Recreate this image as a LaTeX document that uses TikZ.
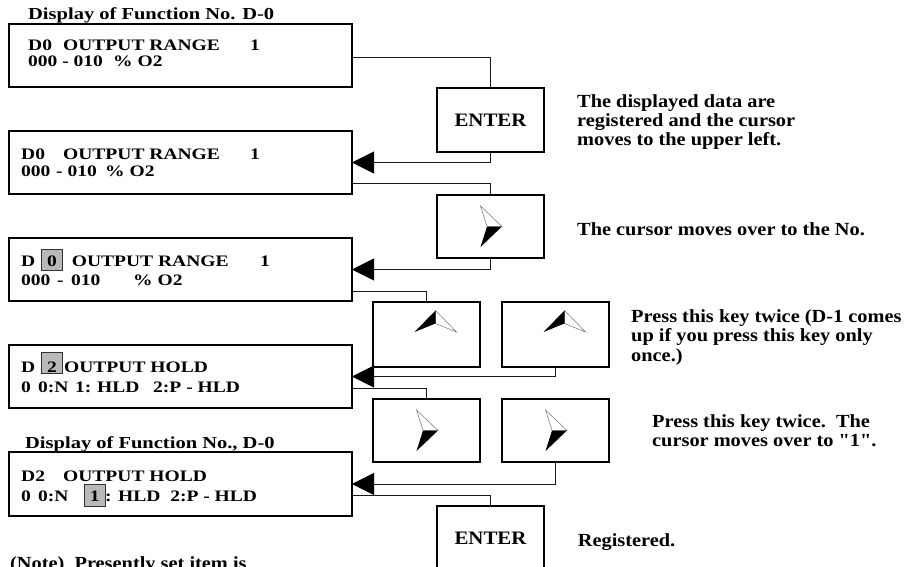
\documentclass[tikz,border=0pt]{standalone}
\usepackage{fontspec}
\setmainfont{Liberation Serif}
\newfontfamily\dispfont[FakeStretch=1.22]{Liberation Serif Bold}
\newfontfamily\rfont[FakeStretch=1.1]{Liberation Serif Bold}
\usetikzlibrary{arrows.meta,calc}
\newcommand\seg[2]{\makebox[#1pt][l]{#2}}
\tikzset{
 rightkey/.pic={
   \filldraw[fill=white,draw=black!55,line width=0.5pt] (-10,-20.5) -- (11.5,0) -- (-3.5,0) -- cycle;
   \fill[black] (-3.5,0) -- (11.5,0) -- (-10,20.5) -- cycle;
 },
 upkey/.pic={
   \filldraw[fill=white,draw=black!55,line width=0.5pt] (9,-24) -- (30,-2.5) -- (9,-11) -- cycle;
   \fill[black] (-12,-2.5) -- (9,-24) -- (9,-11) -- cycle;
 }
}
\begin{document}
\begin{tikzpicture}[x=1pt,y=-1pt,
 disp/.style={draw=black,line width=1.6pt,minimum width=343pt,minimum height=63pt,inner sep=0pt,outer sep=0pt},
 keybox/.style={draw=black,line width=1.6pt,minimum width=107pt,minimum height=64pt,inner sep=0pt,outer sep=0pt,font=\rfont\fontsize{19}{19.5}\selectfont},
 dtext/.style={anchor=base west,inner sep=0pt,font=\dispfont\fontsize{16}{16}\selectfont},
 ttext/.style={anchor=base west,inner sep=0pt,font=\dispfont\fontsize{16.8}{17}\selectfont},
 rtext/.style={anchor=base west,inner sep=0pt,font=\rfont\fontsize{18.5}{19.5}\selectfont},
 conn/.style={draw=black!90,line width=0.9pt},
 arr/.style={conn,-{Triangle[length=22pt,width=22pt,color=black]}},
 hl/.style={draw=black!80,line width=1pt,fill=black!28}
]
\useasboundingbox (0,0) rectangle (904,567);
\clip (0,0) rectangle (904,567);
\fill[white] (0,0) rectangle (904,567);

% display boxes
\node[disp] (d1) at (180.5,55.5) {};
\node[disp] (d2) at (180.5,162.5) {};
\node[disp] (d3) at (180.5,269.5) {};
\node[disp] (d4) at (180.5,376.5) {};
\node[disp,minimum height=64pt] (d5) at (180.5,484) {};

% key boxes
\node[keybox] (k1) at (490.5,120) {ENTER};
\node[keybox,minimum height=63pt] (k2) at (490.5,226.5) {};
\node[keybox,minimum height=65pt] (k3) at (426.5,334.5) {};
\node[keybox,minimum height=65pt] (k4) at (555.5,334.5) {};
\node[keybox,minimum height=63pt] (k5) at (426.5,430.5) {};
\node[keybox,minimum height=63pt] (k6) at (555.5,430.5) {};
\node[keybox] (k7) at (490.5,538) {ENTER};

\pic at (k2.center) {rightkey};
\pic at (k3.center) {upkey};
\pic at (k4.center) {upkey};
\pic at (k5.center) {rightkey};
\pic at (k6.center) {rightkey};

% connectors
\draw[conn] ($(d1.east)+(0,1.5)$) -| (k1.north);
\draw[arr] (k1.south) |- (d2.east);
\draw[conn] ($(d2.south east)+(0,-11)$) -| (k2.north);
\draw[arr] (k2.south) |- (d3.east);
\draw[conn] ($(d3.south east)+(0,-10)$) -| (k3.north);
\draw[arr] (k4.south) |- (d4.east);
\draw[conn] ($(d4.south east)+(0,-20)$) -| (k5.north);
\draw[arr] (k6.south) |- (d5.east);
\draw[conn] ($(d5.south east)+(0,-21)$) -| (k7.north);

% highlight squares
\draw[hl] (41.7,249) rectangle (62.7,270);
\draw[hl] (41.7,352) rectangle (62.7,373);
\draw[hl] (84,484.3) rectangle (105,506.7);

% titles
\node[ttext] (title1) at (28,20) {Display of Function No. D-0};
\node[ttext] (title2) at (25,448) {Display of Function No., D-0};

% display texts
\node[dtext] (t1a) at (28,50.7) {\seg{35}{D0}\seg{187}{OUTPUT RANGE}1};
\node[dtext] (t1b) at (28,66.7) {\seg{85}{000 - 010}\% O2};
\node[dtext] (t2a) at (21,159.3) {\seg{42}{D0}\seg{187}{OUTPUT RANGE}1};
\node[dtext] (t2b) at (21,176.7) {\seg{35}{000}\seg{49}{- 010}\% O2};
\node[dtext] (t3a) at (21,266.7) {\seg{26}{D}\seg{24.7}{0}\seg{188.3}{OUTPUT RANGE}1};
\node[dtext] (t3b) at (21,285) {\seg{36}{000}\seg{14}{-}\seg{62}{010}\% O2};
\node[dtext] (t4a) at (21,372.7) {\seg{26}{D}\seg{17}{2}OUTPUT HOLD};
\node[dtext] (t4b) at (21,392) {\seg{17}{0}\seg{37}{0:N}\seg{22}{1:}\seg{56}{HLD}2:P - HLD};
\node[dtext] (t5a) at (21,481) {\seg{42}{D2}OUTPUT HOLD};
\node[dtext] (t5b) at (21,501) {\seg{17}{0}\seg{51.6}{0:N}\seg{15.4}{1}: HLD\ \ 2:P - HLD};

% explanations
\node[rtext] (n1) at (577,107) {\parbox[t]{320pt}{\raggedright The displayed data are\\registered and the cursor\\moves to the upper left.}};
\node[rtext] (n2) at (577,235) {The cursor moves over to the No.};
\node[rtext] (n3) at (631,322) {\parbox[t]{300pt}{\raggedright Press this key twice (D-1 comes\\up if you press this key only\\once.)}};
\node[rtext] (n4) at (652,427) {\parbox[t]{300pt}{\raggedright Press this key twice.\ \ The\\cursor moves over to "1".}};
\node[rtext] (n5) at (577.7,546.7) {Registered.};
\node[rtext] (note) at (10,569) {(Note)\ \ Presently set item is};
\end{tikzpicture}
\end{document}
